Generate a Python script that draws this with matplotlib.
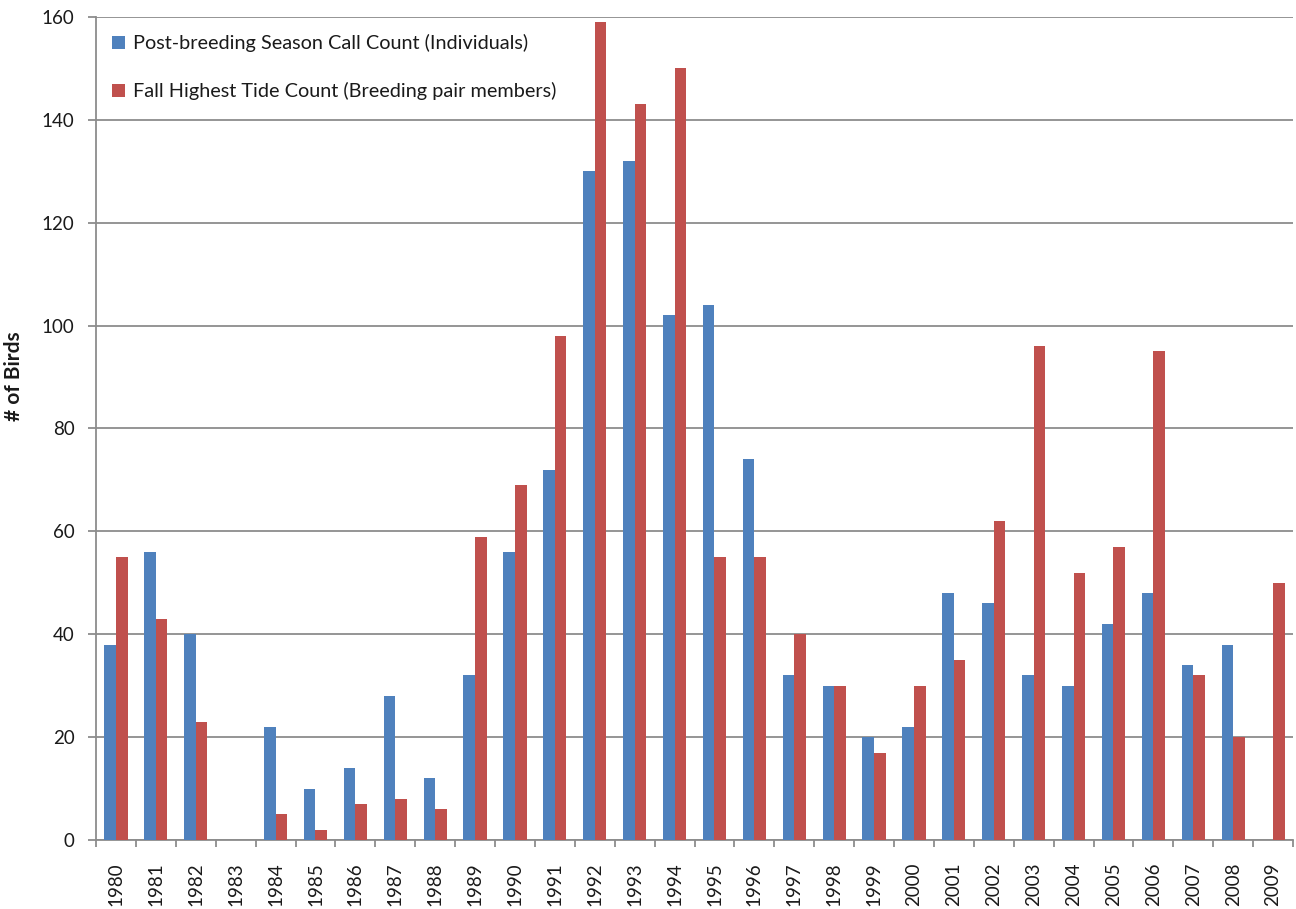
import matplotlib
matplotlib.use("Agg")
import matplotlib.pyplot as plt
import numpy as np
from matplotlib.ticker import FixedLocator

years = [str(y) for y in range(1980, 2010)]
call_count = [38, 56, 40, 0, 22, 10, 14, 28, 12, 32,
              56, 72, 130, 132, 102, 104, 74, 32, 30, 20,
              22, 48, 46, 32, 30, 42, 48, 34, 38, 0]
tide_count = [55, 43, 23, 0, 5, 2, 7, 8, 6, 59,
              69, 98, 159, 143, 150, 55, 55, 40, 30, 17,
              30, 35, 62, 96, 52, 57, 95, 32, 20, 50]
series_labels = ["Post-breeding Season Call Count (Individuals)",
                 "Fall Highest Tide Count (Breeding pair members)"]
y_ticks = [0, 20, 40, 60, 80, 100, 120, 140, 160]

plt.rcParams["font.family"] = ["Lato", "DejaVu Sans"]

BLUE = "#4F81BD"
RED = "#C0504D"
GRID = "#8C8C8C"
TEXT = "#1a1a1a"

fig = plt.figure(figsize=(12.96, 9.09), dpi=100)
ax = fig.add_axes([96 / 1296, 1 - 840 / 909, 1197 / 1296, 823 / 909])

x = np.arange(len(years))
w = 0.29
ax.bar(x - w / 2, call_count, width=w, color=BLUE, label=series_labels[0], zorder=3)
ax.bar(x + w / 2, tide_count, width=w, color=RED, label=series_labels[1], zorder=3)

ax.set_xlim(-0.5, len(years) - 0.5)
ax.set_ylim(0, 160)
ax.set_yticks(y_ticks)
ax.set_yticklabels([str(v) for v in y_ticks], fontsize=13.5, color=TEXT)
ax.yaxis.grid(True, color=GRID, linewidth=1.3, zorder=0)
ax.set_axisbelow(True)

ax.set_xticks(x)
ax.set_xticklabels(years, rotation=90, fontsize=13.5, color=TEXT)
ax.xaxis.set_minor_locator(FixedLocator(np.arange(-0.5, len(years), 1.0)))
ax.tick_params(axis="x", which="major", length=0, pad=16)
ax.tick_params(axis="x", which="minor", length=5, width=1.3, color=GRID)
ax.tick_params(axis="y", which="major", length=5.5, width=1.3, color=GRID, pad=10)

for side in ("top", "right"):
    ax.spines[side].set_visible(False)
for side in ("left", "bottom"):
    ax.spines[side].set_color(GRID)
    ax.spines[side].set_linewidth(1.3)

ax.set_ylabel("# of Birds", fontsize=15, fontweight="bold", color=TEXT)
ax.yaxis.set_label_coords(-0.060, 1 - (376 - 17) / 823)

leg = ax.legend(loc="upper left", bbox_to_anchor=(0.0135, 0.979), frameon=False,
                fontsize=14.3, handlelength=0.65, handleheight=0.65,
                handletextpad=0.4, labelspacing=1.5, borderpad=0, borderaxespad=0)
for t in leg.get_texts():
    t.set_color(TEXT)

fig.savefig("out.png", dpi=100)
